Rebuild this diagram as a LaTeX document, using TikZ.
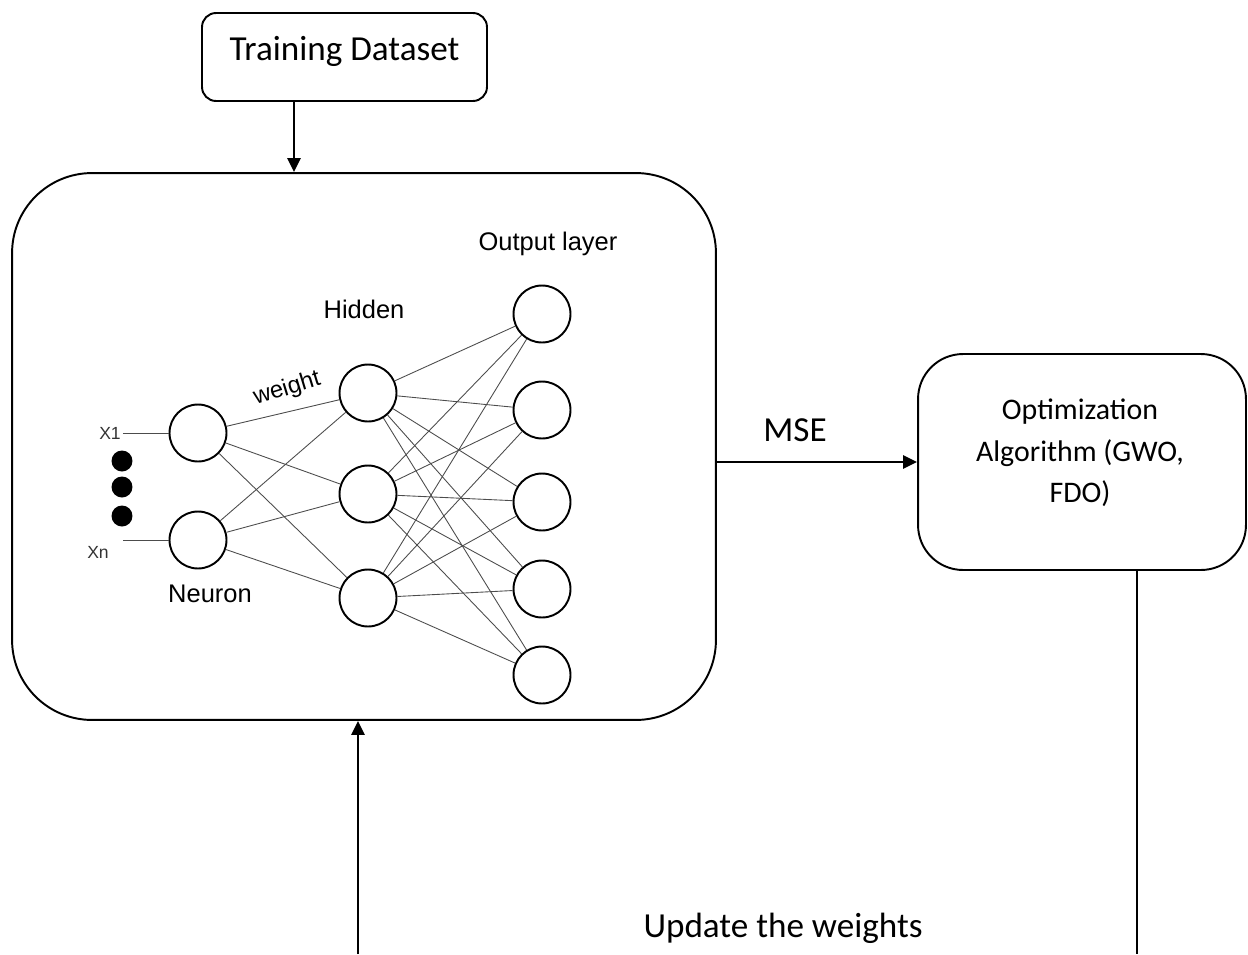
\documentclass[tikz,border=0pt]{standalone}
\usepackage{fontspec}
\setmainfont{Carlito}
\newfontfamily\arialfont{Liberation Sans}
\usetikzlibrary{arrows.meta}
\tikzset{
	boxstyle/.style={draw=black, line width=1.1pt, rounded corners=#1, inner sep=0pt},
	neuronstyle/.style={circle, draw=black, line width=1.1pt, fill=white, minimum size=1.14cm, inner sep=0pt},
	dotstyle/.style={circle, fill=black, minimum size=0.42cm, inner sep=0pt},
	edgestyle/.style={draw=black!70, line width=0.5pt},
	arrowstyle/.style={line width=1.4pt, -{Triangle[length=8pt, width=7.5pt]}},
	loopstyle/.style={line width=1.2pt},
	labelstyle/.style={font=\arialfont\fontsize{14.5}{17}\selectfont},
	inputstyle/.style={font=\arialfont\fontsize{10}{12}\selectfont, text=black!80, inner sep=1pt}
}

\begin{document}
\begin{tikzpicture}[x=0.02cm, y=-0.02cm]
\useasboundingbox (0,0) rectangle (1248,954);

\def\xin{198}
\def\xhid{368}
\def\xout{542}

\node[boxstyle=0.28cm, minimum width=5.7cm, text height=0.94cm, text depth=0.82cm,
	font=\fontsize{20}{24}\selectfont] (train) at (344.5,57) {Training Dataset};
\node[boxstyle=1.6cm, minimum width=14.08cm, minimum height=10.94cm] (nnbox) at (364,446.5) {};
\node[boxstyle=0.9cm, minimum width=6.56cm, minimum height=4.32cm] (opt) at (1082,462) {};
\node[align=center, font=\fontsize{17}{23.5}\selectfont] (opttext) at (1080,453)
	{Optimization\\Algorithm (GWO,\\FDO)};

\node[neuronstyle] (i1) at (\xin, 433) {};
\node[neuronstyle] (i2) at (\xin, 540) {};

\node[neuronstyle] (h1) at (\xhid, 393) {};
\node[neuronstyle] (h2) at (\xhid, 494) {};
\node[neuronstyle] (h3) at (\xhid, 598) {};

\node[neuronstyle] (o1) at (\xout, 314) {};
\node[neuronstyle] (o2) at (\xout, 410) {};
\node[neuronstyle] (o3) at (\xout, 502) {};
\node[neuronstyle] (o4) at (\xout, 589) {};
\node[neuronstyle] (o5) at (\xout, 675) {};

\node[dotstyle] (dot1) at (122, 461) {};
\node[dotstyle] (dot2) at (122, 487) {};
\node[dotstyle] (dot3) at (122, 516) {};

\node[inputstyle] (x1) at (110, 433) {X1};
\node[inputstyle] (xn) at (98, 552) {Xn};

\node[labelstyle] (outlbl) at (548, 244) {Output layer};
\node[labelstyle] (hidlbl) at (364, 309) {Hidden};
\node[labelstyle] (neulbl) at (210, 594) {Neuron};
\node[font=\arialfont\fontsize{13.5}{16}\selectfont, rotate=17, inner sep=0pt] (wlbl) at (287, 389) {weight};

\node[font=\fontsize{20}{24}\selectfont] (mse) at (795, 430) {MSE};
\node[font=\fontsize{20}{24}\selectfont] (upd) at (783, 928) {Update the weights};

\draw[edgestyle] (x1) -- (i1);
\draw[edgestyle] (i2.west) -- (i2.west -| x1.east);

\draw[edgestyle] (i1)--(h1);
\draw[edgestyle] (i1)--(h2);
\draw[edgestyle] (i1)--(h3);
\draw[edgestyle] (i2)--(h1);
\draw[edgestyle] (i2)--(h2);
\draw[edgestyle] (i2)--(h3);

\draw[edgestyle] (h1)--(o1);
\draw[edgestyle] (h1)--(o2);
\draw[edgestyle] (h1)--(o3);
\draw[edgestyle] (h1)--(o4);
\draw[edgestyle] (h1)--(o5);
\draw[edgestyle] (h2)--(o1);
\draw[edgestyle] (h2)--(o2);
\draw[edgestyle] (h2)--(o3);
\draw[edgestyle] (h2)--(o4);
\draw[edgestyle] (h2)--(o5);
\draw[edgestyle] (h3)--(o1);
\draw[edgestyle] (h3)--(o2);
\draw[edgestyle] (h3)--(o3);
\draw[edgestyle] (h3)--(o4);
\draw[edgestyle] (h3)--(o5);

\draw[arrowstyle] ([xshift=-1.01cm]train.south) -- ([xshift=-1.01cm]train.south |- nnbox.north);
\draw[arrowstyle] (nnbox.east |- opt.west) -- (opt.west);

\coordinate (loopR) at (1137, 954);
\coordinate (loopL) at (358, 954);
\draw[loopstyle] (opt.south -| loopR) -- (loopR);
\draw[arrowstyle] (loopL) -- (loopL |- nnbox.south);
\end{tikzpicture}
\end{document}
